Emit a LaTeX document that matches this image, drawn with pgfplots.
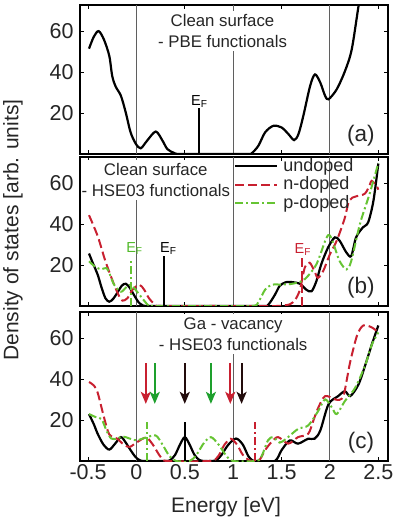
\documentclass[border=0pt]{standalone}
\usepackage{fontspec}
\setmainfont{Liberation Sans}
\usepackage{pgfplots}
\pgfplotsset{compat=1.18}
\usetikzlibrary{arrows.meta}

\definecolor{myred}{RGB}{200,32,48}
\definecolor{mygreen}{RGB}{102,196,51}
\definecolor{efgreen}{RGB}{80,185,40}
\definecolor{arrgreen}{RGB}{30,160,45}
\definecolor{arrblack}{RGB}{35,12,12}
\definecolor{vgray}{RGB}{95,95,95}

\tikzset{
  txt/.style={font=\fontsize{16.8}{21.5}\selectfont, align=center, fill=white, inner xsep=1pt, inner ysep=3pt, text=black!85},
  ef/.style={font=\fontsize{14.5}{16}\selectfont, anchor=south, inner sep=1pt},
  plab/.style={font=\fontsize{22.5}{26}\selectfont, text=black!85},
}
\pgfplotsset{
  panel/.style={
    scale only axis, width=308pt, height=149pt,
    xmin=-0.583, xmax=2.6, ymin=0, ymax=73,
    xtick={-0.5,0,0.5,1,1.5,2,2.5}, ytick={20,40,60},
    tick align=inside, major tick length=4pt,
    tick style={black, line width=0.9pt},
    axis line style={line width=1.2pt},
    tick label style={font=\fontsize{21.5}{24}\selectfont, text=black!85},
    yticklabel style={xshift=-3pt},
    /pgf/number format/assume math mode=true,
    anchor=north west,
  },
  vline/.style={forget plot, color=vgray, line width=1pt},
  blk/.style={black, line width=2.2pt, smooth, tension=0.5},
  rd/.style={myred, line width=2pt, dash pattern=on 9pt off 4pt, smooth, tension=0.5},
  gr/.style={mygreen, line width=2pt, dash pattern=on 8pt off 3pt on 2pt off 3pt, smooth, tension=0.5},
  arr/.style={forget plot, line width=2pt, -{Stealth[length=12pt,width=10pt,inset=3pt]}},
}

\begin{document}
\begin{tikzpicture}
% ---------------- (a)
\begin{axis}[panel, at={(80pt,-5pt)}, xticklabels={}]
\addplot[vline] coordinates {(0,0) (0,73)};
\addplot[vline] coordinates {(1,0) (1,73)};
\addplot[vline] coordinates {(2,0) (2,73)};
\addplot[blk] coordinates {(-0.49,51.6) (-0.44,57.5) (-0.39,60.2) (-0.335,56) (-0.28,48) (-0.25,38.2) (-0.214,33) (-0.16,28.5) (-0.11,20.3) (-0.06,10.6) (-0.005,4.9) (0.045,2.8) (0.11,6.5) (0.2,11) (0.27,6.5) (0.32,2.4) (0.39,0.5) (0.45,0) (0.8,0) (1.15,0) (1.19,0.3) (1.26,4) (1.33,10.6) (1.415,13.8) (1.5,13) (1.57,9.8) (1.63,6.8) (1.675,9.8) (1.725,18.7) (1.795,33.3) (1.845,39) (1.9,35) (1.95,28.5) (1.985,26.8) (2.07,31.7) (2.156,40.7) (2.225,51.2) (2.295,72.4) (2.33,82)};
\addplot[black, line width=2pt, forget plot] coordinates {(0.65,0) (0.65,22.3)};
\node[ef] at (axis cs:0.65,22.3) {E\textsubscript{F}};
\node[txt] at (axis cs:0.89,60.3) {Clean surface\\- PBE functionals};
\node[plab] at (axis cs:2.32,8.8) {(a)};
\end{axis}
% ---------------- (b)
\begin{axis}[panel, at={(80pt,-157pt)}, xticklabels={},
  legend style={draw=none, fill=none, at={(rel axis cs:0.5,1.0)}, anchor=north west,
    inner sep=0pt, font=\fontsize{18}{20}\selectfont, text=black!85,
    nodes={inner sep=1pt, text depth=0.22em}, row sep=1.5pt, column sep=4pt},
  legend cell align=left,
  legend image code/.code={\draw[#1, smooth=false] (0pt,0pt) -- (42pt,0pt);}]
\addplot[vline] coordinates {(0,0) (0,73)};
\addplot[vline] coordinates {(1,0) (1,73)};
\addplot[vline] coordinates {(2,0) (2,73)};
\addplot[blk] coordinates {(-0.49,25.7) (-0.45,21) (-0.40,15.3) (-0.36,9) (-0.32,3.8) (-0.28,2.1) (-0.24,3.5) (-0.2,6.3) (-0.15,10) (-0.11,10.9) (-0.07,9) (-0.025,5.4) (0.02,2) (0.06,0.5) (0.13,0) (0.7,0) (1.3,0) (1.36,0.5) (1.43,5.4) (1.48,9.8) (1.535,11.5) (1.585,11.8) (1.69,10.9) (1.755,8) (1.81,7.2) (1.86,12.2) (1.91,20.4) (1.98,28.6) (2.05,33.6) (2.1,32) (2.17,26.2) (2.22,24.5) (2.27,33.6) (2.34,38.5) (2.395,41) (2.45,51.7) (2.5,69.8)};
\addlegendentry{undoped}
\addplot[rd] coordinates {(-0.49,44.5) (-0.40,34.2) (-0.32,21.9) (-0.23,10.4) (-0.18,5) (-0.145,2.6) (-0.093,3.8) (-0.04,8) (0.03,10.4) (0.08,8) (0.13,3.8) (0.2,0.3) (0.25,0) (0.8,0) (1.45,0) (1.52,0.3) (1.585,0.8) (1.64,3) (1.69,8) (1.74,18.8) (1.79,21.2) (1.84,17.1) (1.875,13.8) (1.93,17.1) (2.0,25.4) (2.07,32) (2.15,42.6) (2.2,51.7) (2.27,53.7) (2.36,55) (2.41,59.1) (2.43,61.3) (2.48,59.1) (2.5,57)};
\addlegendentry{n-doped}
\addplot[gr] coordinates {(-0.49,21.9) (-0.42,19) (-0.36,18) (-0.31,18.6) (-0.27,15) (-0.23,10.4) (-0.16,7) (-0.11,9) (-0.06,10.4) (-0.01,8) (0.06,3.8) (0.12,0.5) (0.17,0) (0.7,0) (1.19,0) (1.26,2) (1.33,8) (1.4,10.4) (1.5,10.5) (1.6,10.8) (1.7,12) (1.755,13.8) (1.86,20.4) (1.96,33) (2.0,34.5) (2.05,28.6) (2.1,22) (2.17,17.9) (2.22,22) (2.31,40.2) (2.41,55) (2.5,70)};
\addlegendentry{p-doped}
\addplot[black, line width=2pt, forget plot] coordinates {(0.29,0) (0.29,24.4)};
\addplot[mygreen, line width=2pt, dash pattern=on 8pt off 3pt on 2pt off 3pt, forget plot] coordinates {(-0.06,0) (-0.06,23.5)};
\addplot[myred, line width=2pt, dash pattern=on 9pt off 4pt, forget plot] coordinates {(1.71,0) (1.71,24)};
\node[ef] at (axis cs:0.33,24.4) {E\textsubscript{F}};
\node[ef, text=efgreen] at (axis cs:-0.02,24.5) {E\textsubscript{F}};
\node[ef, text=myred] at (axis cs:1.72,24.2) {E\textsubscript{F}};
\node[txt] at (axis cs:0.2,61.7) {Clean surface\\- HSE03 functionals};
\node[plab] at (axis cs:2.32,9.2) {(b)};
\end{axis}
% ---------------- (c)
\begin{axis}[panel, at={(80pt,-312pt)}]
\addplot[vline] coordinates {(0,0) (0,73)};
\addplot[vline] coordinates {(1,0) (1,73)};
\addplot[vline] coordinates {(2,0) (2,73)};
\addplot[blk] coordinates {(-0.49,23) (-0.44,18) (-0.40,13.3) (-0.34,8) (-0.28,5.6) (-0.22,8.5) (-0.16,11.7) (-0.11,9) (-0.06,5.3) (-0.01,2) (0.03,0.5) (0.08,0) (0.3,0) (0.35,0.5) (0.4,3) (0.45,8) (0.5,11.7) (0.55,8) (0.6,3) (0.65,0.5) (0.7,0) (0.78,0) (0.83,0.5) (0.88,3) (0.95,8) (1.03,11) (1.1,8) (1.155,2.5) (1.2,0.3) (1.25,0) (1.43,0) (1.5,5.3) (1.585,10.1) (1.67,8.5) (1.775,10.9) (1.84,10.9) (1.9,14.9) (1.985,27.8) (2.085,31.8) (2.155,34.2) (2.21,31.8) (2.295,37.5) (2.365,47) (2.43,56.7) (2.5,66.4)};
\addplot[rd] coordinates {(-0.49,38.7) (-0.44,37) (-0.40,33.4) (-0.335,21.4) (-0.28,13) (-0.2,11) (-0.13,8) (-0.07,6.9) (0.0,9) (0.1,11.5) (0.17,8) (0.25,2) (0.32,0) (0.75,0) (0.84,2) (0.91,8) (0.975,10.9) (1.04,8) (1.1,3) (1.17,0.3) (1.25,0) (1.28,1) (1.33,5.3) (1.4,9.5) (1.465,11.7) (1.57,8.5) (1.67,11.7) (1.775,13.3) (1.83,20) (1.88,26.2) (1.95,31.8) (2.05,30.2) (2.1,30) (2.14,31.8) (2.175,40) (2.21,48.7) (2.28,61.5) (2.345,66.4) (2.43,65.5) (2.5,63.1)};
\addplot[gr] coordinates {(-0.49,23) (-0.42,21.5) (-0.36,20.5) (-0.31,15) (-0.26,11) (-0.2,11) (-0.14,12) (-0.07,11) (0.0,10.1) (0.1,11.5) (0.2,12.5) (0.27,8) (0.34,2.5) (0.41,0) (0.55,0) (0.62,3) (0.7,9) (0.77,11.7) (0.85,8) (0.93,2.5) (1.0,0) (1.23,0) (1.29,2) (1.36,10.1) (1.415,11.7) (1.48,9) (1.55,11) (1.67,15.7) (1.775,17.4) (1.88,24.6) (1.95,30.2) (2.02,26.2) (2.07,23) (2.155,29.4) (2.26,35.8) (2.365,47) (2.43,56.7) (2.5,63)};
\addplot[mygreen, line width=2pt, dash pattern=on 8pt off 3pt on 2pt off 3pt, forget plot] coordinates {(0.11,0) (0.11,19)};
\addplot[black, line width=2pt, forget plot] coordinates {(0.5,0) (0.5,19)};
\addplot[myred, line width=2pt, dash pattern=on 8pt off 3pt on 2pt off 3pt, forget plot] coordinates {(1.225,0) (1.225,19)};
\addplot[arr, myred] coordinates {(0.097,48) (0.097,28)};
\addplot[arr, arrgreen] coordinates {(0.19,48) (0.19,28)};
\addplot[arr, arrblack] coordinates {(0.5,48) (0.5,28)};
\addplot[arr, arrgreen] coordinates {(0.77,48) (0.77,28)};
\addplot[arr, myred] coordinates {(0.97,48) (0.97,28)};
\addplot[arr, arrblack] coordinates {(1.087,48) (1.087,28)};
\node[txt] at (axis cs:1.0,62.2) {Ga - vacancy\\- HSE03 functionals};
\node[plab] at (axis cs:2.32,9.2) {(c)};
\end{axis}
\node[rotate=90, font=\fontsize{21}{24}\selectfont, text=black!85] at (13pt,-230pt) {Density of states [arb. units]};
\node[font=\fontsize{21}{24}\selectfont, text=black!85] at (226pt,-507pt) {Energy [eV]};
\pgfresetboundingbox
\path[use as bounding box] (0,0) rectangle (392pt,-522pt);
\end{tikzpicture}
\end{document}
